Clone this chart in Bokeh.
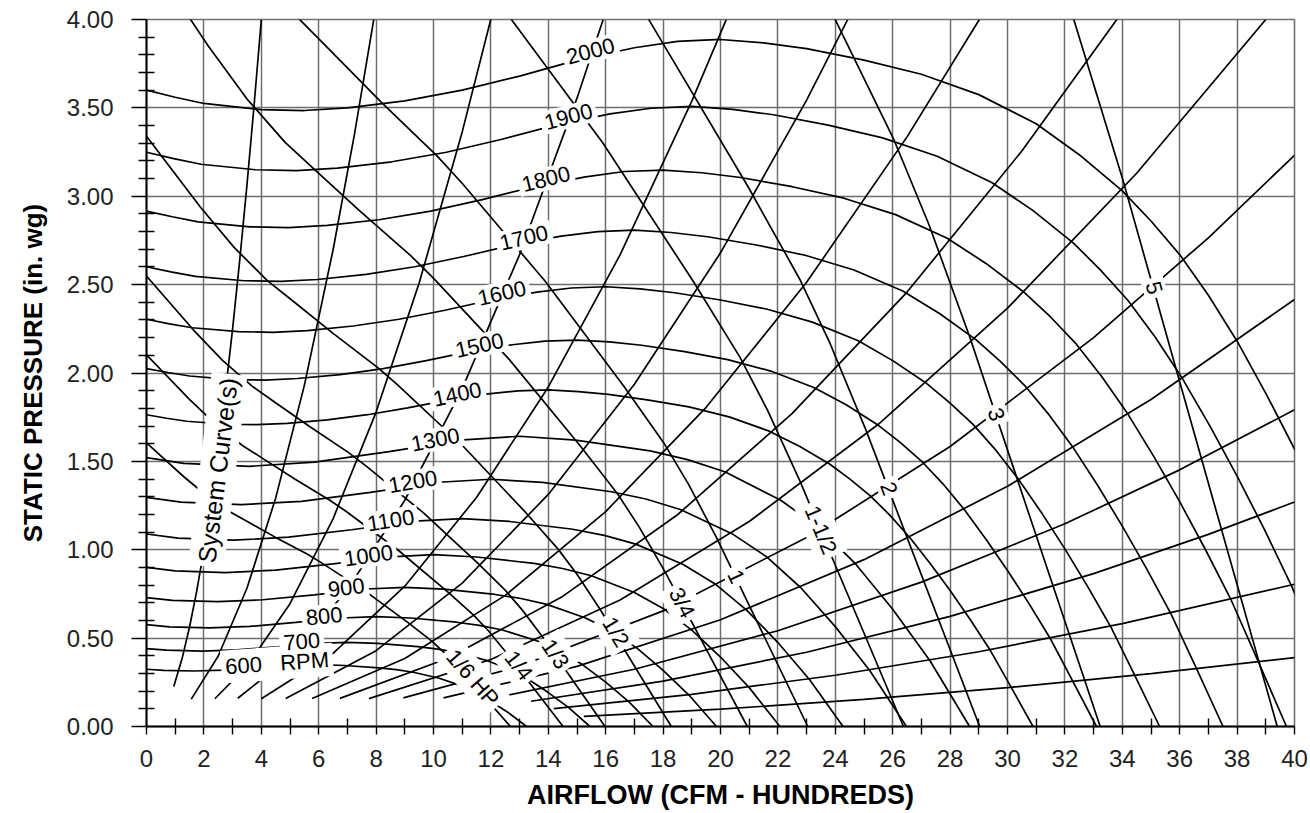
from bokeh.plotting import figure
from bokeh.models import ColumnDataSource, FixedTicker, PrintfTickFormatter, Range1d
from bokeh.core.properties import value
from bokeh.embed import file_html
from bokeh.resources import INLINE

# ---------------- fan curves (RPM): airflow (CFM hundreds) vs static pressure ----------------
fan_600_x = [0, 0.6, 1.65, 2.7, 3.9, 5.1, 6.0, 6.9, 8.1, 8.7, 9.3, 10.2, 10.8, 11.4, 12.0, 12.6, 13.24]
fan_600_y = [0.324, 0.317, 0.314, 0.319, 0.331, 0.346, 0.350, 0.345, 0.332, 0.322, 0.307, 0.273, 0.240, 0.196, 0.141, 0.079, 0]
fan_700_x = [0, 0.7, 1.93, 3.15, 4.55, 5.95, 7.0, 8.05, 9.45, 10.15, 10.85, 11.9, 12.6, 13.3, 14.0, 14.7, 15.45]
fan_700_y = [0.441, 0.432, 0.427, 0.434, 0.451, 0.470, 0.476, 0.470, 0.452, 0.438, 0.418, 0.371, 0.327, 0.267, 0.192, 0.108, 0]
fan_800_x = [0, 0.8, 2.2, 3.6, 5.2, 6.8, 8.0, 9.2, 10.8, 11.6, 12.4, 13.6, 14.4, 15.2, 16.0, 16.8, 17.65]
fan_800_y = [0.576, 0.564, 0.558, 0.566, 0.589, 0.614, 0.622, 0.614, 0.590, 0.572, 0.546, 0.485, 0.427, 0.349, 0.251, 0.141, 0]
fan_900_x = [0, 0.9, 2.48, 4.05, 5.85, 7.65, 9.0, 10.35, 12.15, 13.05, 13.95, 15.3, 16.2, 17.1, 18.0, 18.9, 19.86]
fan_900_y = [0.729, 0.714, 0.706, 0.717, 0.745, 0.778, 0.787, 0.777, 0.747, 0.724, 0.691, 0.614, 0.541, 0.442, 0.318, 0.178, 0]
fan_1000_x = [0, 1.0, 2.75, 4.5, 6.5, 8.5, 10.0, 11.5, 13.5, 14.5, 15.5, 17.0, 18.0, 19.0, 20.0, 21.0, 22.07]
fan_1000_y = [0.900, 0.881, 0.871, 0.885, 0.920, 0.960, 0.972, 0.959, 0.923, 0.894, 0.853, 0.758, 0.668, 0.545, 0.393, 0.220, 0]
fan_1100_x = [0, 1.1, 3.03, 4.95, 7.15, 9.35, 11.0, 12.65, 14.85, 15.95, 17.05, 18.7, 19.8, 20.9, 22.0, 23.1, 24.27]
fan_1100_y = [1.089, 1.066, 1.054, 1.071, 1.113, 1.162, 1.176, 1.160, 1.116, 1.081, 1.032, 0.917, 0.808, 0.660, 0.475, 0.266, 0]
fan_1200_x = [0, 1.2, 3.3, 5.4, 7.8, 10.2, 12.0, 13.8, 16.2, 17.4, 18.6, 20.4, 21.6, 22.8, 24.0, 25.2, 26.48]
fan_1200_y = [1.296, 1.269, 1.255, 1.274, 1.325, 1.382, 1.399, 1.381, 1.328, 1.287, 1.228, 1.091, 0.961, 0.785, 0.565, 0.317, 0]
fan_1300_x = [0, 1.3, 3.58, 5.85, 8.45, 11.05, 13.0, 14.95, 17.55, 18.85, 20.15, 22.1, 23.4, 24.7, 26.0, 27.3, 28.68]
fan_1300_y = [1.521, 1.489, 1.472, 1.496, 1.555, 1.622, 1.642, 1.620, 1.559, 1.510, 1.441, 1.280, 1.128, 0.921, 0.663, 0.372, 0]
fan_1400_x = [0, 0.7, 1.4, 2.8, 3.85, 4.9, 6.3, 7.7, 9.1, 10.5, 11.9, 12.95, 14.0, 15.05, 16.1, 17.5, 18.9, 20.3,
              21.7, 22.75, 23.8, 24.5, 25.2, 25.9, 26.6, 27.3, 28.0, 28.7, 29.4, 30.1, 30.89]
fan_1400_y = [1.764, 1.744, 1.727, 1.710, 1.708, 1.715, 1.735, 1.764, 1.803, 1.847, 1.882, 1.899, 1.905, 1.895,
              1.879, 1.847, 1.808, 1.752, 1.671, 1.585, 1.485, 1.401, 1.308, 1.196, 1.068, 0.924, 0.769, 0.605,
              0.431, 0.230, 0]
fan_1500_x = [0, 0.75, 1.5, 3.0, 4.13, 5.25, 6.75, 8.25, 9.75, 11.25, 12.75, 13.88, 15.0, 16.13, 17.25, 18.75,
              20.25, 21.75, 23.25, 24.38, 25.5, 26.25, 27.0, 27.75, 28.5, 29.25, 30.0, 30.75, 31.5, 32.25, 33.1]
fan_1500_y = [2.025, 2.003, 1.983, 1.963, 1.960, 1.969, 1.991, 2.025, 2.070, 2.121, 2.160, 2.180, 2.186, 2.176,
              2.157, 2.121, 2.076, 2.011, 1.918, 1.820, 1.704, 1.609, 1.502, 1.373, 1.226, 1.060, 0.883, 0.695,
              0.495, 0.264, 0]
fan_1600_x = [0, 0.8, 1.6, 3.2, 4.4, 5.6, 7.2, 8.8, 10.4, 12.0, 13.6, 14.8, 16.0, 17.2, 18.4, 20.0, 21.6, 23.2,
              24.8, 26.0, 27.2, 28.0, 28.8, 29.6, 30.4, 31.2, 32.0, 32.8, 33.6, 34.4, 35.3]
fan_1600_y = [2.304, 2.278, 2.256, 2.234, 2.230, 2.240, 2.266, 2.304, 2.355, 2.413, 2.458, 2.481, 2.488, 2.476,
              2.454, 2.413, 2.362, 2.288, 2.182, 2.070, 1.939, 1.830, 1.709, 1.562, 1.395, 1.206, 1.005, 0.790,
              0.563, 0.301, 0]
fan_1700_x = [0, 0.85, 1.7, 3.4, 4.68, 5.95, 7.65, 9.35, 11.05, 12.75, 14.45, 15.73, 17.0, 18.28, 19.55, 21.25,
              22.95, 24.65, 26.35, 27.63, 28.9, 29.75, 30.6, 31.45, 32.3, 33.15, 34.0, 34.85, 35.7, 36.55, 37.51]
fan_1700_y = [2.601, 2.572, 2.547, 2.522, 2.518, 2.529, 2.558, 2.601, 2.659, 2.724, 2.774, 2.800, 2.808, 2.795,
              2.771, 2.724, 2.666, 2.583, 2.464, 2.337, 2.189, 2.066, 1.929, 1.763, 1.575, 1.362, 1.134, 0.892,
              0.636, 0.340, 0]
fan_1800_x = [0, 0.9, 1.8, 3.6, 4.95, 6.3, 8.1, 9.9, 11.7, 13.5, 15.3, 16.65, 18.0, 19.35, 20.7, 22.5, 24.3, 26.1,
              27.9, 29.25, 30.6, 31.5, 32.4, 33.3, 34.2, 35.1, 36.0, 36.9, 37.8, 38.7, 39.72]
fan_1800_y = [2.916, 2.884, 2.855, 2.827, 2.823, 2.835, 2.867, 2.916, 2.981, 3.054, 3.110, 3.140, 3.148, 3.133,
              3.106, 3.054, 2.989, 2.896, 2.762, 2.620, 2.454, 2.317, 2.163, 1.976, 1.766, 1.527, 1.272, 1.000,
              0.713, 0.381, 0]
fan_1900_x = [0, 0.95, 1.9, 3.8, 5.23, 6.65, 8.55, 10.45, 12.35, 14.25, 16.15, 17.58, 19.0, 20.43, 21.85, 23.75,
              25.65, 27.55, 29.45, 30.88, 32.3, 33.25, 34.2, 35.15, 36.1, 37.05, 38.0, 38.95, 39.9, 40.85, 41.92]
fan_1900_y = [3.249, 3.213, 3.181, 3.150, 3.145, 3.159, 3.195, 3.249, 3.321, 3.402, 3.466, 3.498, 3.508, 3.491,
              3.461, 3.402, 3.330, 3.226, 3.078, 2.920, 2.735, 2.581, 2.410, 2.202, 1.967, 1.701, 1.417, 1.115,
              0.794, 0.424, 0]
fan_2000_x = [0, 1, 2, 4, 5.5, 7, 9, 11, 13, 15, 17, 18.5, 20, 21.5, 23, 25, 27, 29, 31, 32.5, 34, 35, 36, 37,
              38, 39, 40, 41, 42, 43, 44.13]
fan_2000_y = [3.60, 3.56, 3.525, 3.49, 3.485, 3.50, 3.54, 3.60, 3.68, 3.77, 3.84, 3.876, 3.887, 3.868, 3.835,
              3.77, 3.69, 3.575, 3.41, 3.235, 3.03, 2.86, 2.67, 2.44, 2.18, 1.885, 1.57, 1.235, 0.88, 0.47, 0]

# ---------------- brake horsepower lines ----------------
hp_1_6_x = [0, 1.3, 2.11, 2.92, 3.56, 4.5, 5.58, 6.06, 7.645, 9.16, 9.94, 10.4, 10.95, 11.57, 12.68]
hp_1_6_y = [1.605, 1.413, 1.304, 1.213, 1.155, 1.07, 0.977, 0.93, 0.763, 0.582, 0.483, 0.414, 0.32, 0.205, 0]
hp_1_4_x = [0, 1.488, 2.415, 3.343, 4.075, 5.151, 6.387, 6.937, 8.751, 10.485, 11.378, 11.905, 12.534, 13.244, 14.515]
hp_1_4_y = [2.103, 1.852, 1.709, 1.590, 1.514, 1.402, 1.280, 1.219, 1.000, 0.763, 0.633, 0.543, 0.419, 0.269, 0]
hp_1_3_x = [0, 1.638, 2.658, 3.679, 4.485, 5.670, 7.030, 7.635, 9.632, 11.541, 12.523, 13.103, 13.796, 14.577, 15.976]
hp_1_3_y = [2.548, 2.243, 2.070, 1.926, 1.833, 1.699, 1.551, 1.476, 1.211, 0.924, 0.767, 0.657, 0.508, 0.325, 0]
hp_1_2_x = [0, 1.875, 3.043, 4.211, 5.134, 6.490, 8.047, 8.740, 11.026, 13.211, 14.335, 14.999, 15.792, 16.686, 18.287]
hp_1_2_y = [3.339, 2.939, 2.712, 2.523, 2.403, 2.226, 2.032, 1.934, 1.587, 1.211, 1.005, 0.861, 0.666, 0.426, 0]
hp_3_4_x = [0, 2.146, 3.484, 4.821, 5.878, 7.430, 9.213, 10.005, 12.622, 15.123, 16.411, 17.170, 18.078, 19.102, 20.935]
hp_3_4_y = [4.375, 3.851, 3.554, 3.306, 3.148, 2.917, 2.663, 2.535, 2.080, 1.586, 1.317, 1.128, 0.872, 0.559, 0]
hp_1_x = [3.834, 5.306, 6.469, 8.177, 10.139, 11.012, 13.892, 16.645, 18.062, 18.898, 19.897, 21.024, 23.041]
hp_1_y = [4.306, 4.005, 3.814, 3.533, 3.226, 3.071, 2.519, 1.922, 1.595, 1.367, 1.057, 0.677, 0]
hp_1_1_2_x = [11.607, 12.605, 15.902, 19.054, 20.676, 21.633, 22.777, 24.067, 26.376]
hp_1_1_2_y = [4.227, 4.024, 3.301, 2.518, 2.090, 1.791, 1.385, 0.887, 0]
hp_2_x = [13.874, 17.502, 20.971, 22.757, 23.810, 25.069, 26.488, 29.030]
hp_2_y = [4.875, 3.999, 3.051, 2.532, 2.170, 1.677, 1.0745, 0]
hp_3_x = [20.035, 24.006, 26.050, 27.255, 28.697, 30.322, 33.230]
hp_3_y = [5.240, 3.997, 3.317, 2.843, 2.198, 1.408, 0]
hp_5_x = [28.462, 30.886, 32.315, 34.024, 35.950, 39.399]
hp_5_y = [5.619, 4.663, 3.997, 3.090, 1.979, 0]

# ---------------- system curves ----------------
sys_a_x = [0.95, 1.25, 1.5, 1.75, 2.0, 2.25, 2.5, 2.75, 3.0, 3.25, 3.5, 3.75, 4.0]
sys_a_y = [0.226, 0.391, 0.563, 0.766, 1.0, 1.266, 1.563, 1.891, 2.25, 2.641, 3.063, 3.516, 4.0]
sys_b_x = [1.56, 2.5, 3.5, 4.5, 5.5, 6.5, 7.25, 7.92]
sys_b_y = [0.155, 0.399, 0.782, 1.292, 1.930, 2.696, 3.354, 4.002]
sys_c_x = [2.38, 3.5, 5, 6.5, 8, 9.5, 11, 12.0]
sys_c_y = [0.157, 0.341, 0.695, 1.175, 1.779, 2.509, 3.364, 4.003]
sys_d_x = [3.18, 5, 7, 9, 11, 13, 15, 15.91]
sys_d_y = [0.160, 0.395, 0.774, 1.280, 1.912, 2.670, 3.555, 3.999]
sys_e_x = [4.0, 6.5, 9, 11.5, 14, 16.5, 19, 20.2]
sys_e_y = [0.157, 0.414, 0.794, 1.296, 1.921, 2.668, 3.538, 3.999]
sys_f_x = [4.85, 8, 11, 14, 17, 20, 23, 24.43]
sys_f_y = [0.158, 0.429, 0.811, 1.313, 1.936, 2.680, 3.544, 3.999]
sys_g_x = [5.77, 9, 12.5, 16, 19.5, 23, 26.5, 29.02]
sys_g_y = [0.158, 0.385, 0.742, 1.216, 1.806, 2.513, 3.336, 4.0]
sys_h_x = [6.74, 10.5, 14.5, 18.5, 22.5, 26.5, 30.5, 33.81]
sys_h_y = [0.159, 0.386, 0.736, 1.198, 1.772, 2.458, 3.256, 4.0]
sys_i_x = [7.75, 12, 16.5, 21, 25.5, 30, 34.5, 39.0]
sys_i_y = [0.158, 0.379, 0.716, 1.160, 1.710, 2.367, 3.130, 4.0]
sys_j_x = [8.95, 13, 18, 23, 28, 33, 37, 40]
sys_j_y = [0.162, 0.341, 0.654, 1.069, 1.584, 2.200, 2.765, 3.232]
sys_k_x = [10.35, 15, 20, 25, 30, 35, 40]
sys_k_y = [0.162, 0.340, 0.604, 0.944, 1.359, 1.850, 2.416]
sys_l_x = [12.57, 17, 22, 27, 32, 36, 40]
sys_l_y = [0.177, 0.324, 0.542, 0.817, 1.147, 1.452, 1.792]
sys_m_x = [13.4, 18, 23, 28, 33, 37, 40]
sys_m_y = [0.143, 0.257, 0.420, 0.623, 0.865, 1.087, 1.270]
sys_n_x = [14.19, 19, 24, 29, 34, 40]
sys_n_y = [0.101, 0.182, 0.290, 0.423, 0.582, 0.805]
sys_o_x = [15.24, 20, 25, 30, 35, 40]
sys_o_y = [0.057, 0.098, 0.153, 0.220, 0.299, 0.390]

# ---------------- labels ----------------
rpm_labels = ["600\u00a0\u00a0 RPM", "700", "800", "900", "1000", "1100", "1200", "1300", "1400",
              "1500", "1600", "1700", "1800", "1900", "2000"]
rpm_label_x = [4.55, 5.41, 6.19, 6.96, 7.735, 8.51, 9.28, 10.06, 10.83, 11.60, 12.38, 13.15, 13.92, 14.70, 15.47]
rpm_label_y = [0.358, 0.481, 0.624, 0.786, 0.967, 1.166, 1.385, 1.623, 1.880, 2.156, 2.451, 2.765, 3.098, 3.450, 3.821]
rpm_label_angle = [4, 5, 6, 7, 8, 9, 10, 11, 12, 12.5, 13, 13.5, 14, 15, 15]

hp_labels = ["1/6 HP", "1/4", "1/3", "1/2", "3/4", "1", "1-1/2", "2", "3", "5"]
hp_label_x = [11.37, 12.97, 14.25, 16.35, 18.66, 20.55, 23.50, 25.87, 29.61, 35.11]
hp_label_y = [0.275, 0.345, 0.41, 0.535, 0.70, 0.849, 1.112, 1.347, 1.765, 2.481]
hp_label_angle = [-49, -52.6, -55.2, -58.7, -62.1, -64.3, -67.2, -69.1, -71.5, -74.3]

sys_label = ["System Curve(s)"]
sys_label_x = [2.48]
sys_label_y = [1.45]
sys_label_angle = [83]

x_ticks = list(range(0, 41, 2))
x_minor = list(range(1, 40, 2))
y_ticks = [0, 0.5, 1.0, 1.5, 2.0, 2.5, 3.0, 3.5, 4.0]
y_minor = [i / 10 for i in range(41) if i % 5]

FONT = "Liberation Sans"

p = figure(frame_width=1148, frame_height=707,
           min_border_left=146, min_border_right=16, min_border_top=19, min_border_bottom=40,
           x_range=Range1d(0, 40), y_range=Range1d(0, 4),
           output_backend="svg", toolbar_location=None)
p.background_fill_color = "white"
p.border_fill_color = "white"
p.outline_line_color = "#707070"
p.outline_line_width = 1.6

# grid
p.xgrid.grid_line_color = "#6e6e6e"
p.ygrid.grid_line_color = "#6e6e6e"
p.xgrid.grid_line_width = 1.5
p.ygrid.grid_line_width = 1.5

# axes
p.xaxis.ticker = FixedTicker(ticks=x_ticks, minor_ticks=x_minor)
p.yaxis.ticker = FixedTicker(ticks=y_ticks, minor_ticks=y_minor)
p.yaxis.formatter = PrintfTickFormatter(format="%.2f")
for ax in (p.xaxis[0], p.yaxis[0]):
    ax.axis_line_color = "black"
    ax.axis_line_width = 2
    ax.major_tick_line_color = "black"
    ax.minor_tick_line_color = "black"
    ax.major_tick_line_width = 1.4
    ax.minor_tick_line_width = 1.4
    ax.major_tick_in = 0
    ax.minor_tick_in = 8
    ax.minor_tick_out = 8
    ax.major_label_text_font = FONT
    ax.major_label_text_font_size = "24px"
    ax.major_label_text_color = "#222222"
    ax.axis_label_text_font = FONT
    ax.axis_label_text_font_style = "bold"
    ax.axis_label_text_color = "black"
p.xaxis.axis_label_text_font_size = "27px"
p.yaxis.axis_label_text_font_size = "26px"
p.xaxis.major_tick_out = 8
p.yaxis.major_tick_out = 15
p.xaxis.major_label_standoff = 15
p.yaxis.major_label_standoff = 18
p.xaxis.axis_label = "AIRFLOW (CFM - HUNDREDS)"
p.yaxis.axis_label = "STATIC PRESSURE (in. wg)"
p.xaxis.axis_label_standoff = 10
p.yaxis.axis_label_standoff = 16

fan_xs = [fan_600_x, fan_700_x, fan_800_x, fan_900_x, fan_1000_x, fan_1100_x, fan_1200_x, fan_1300_x,
          fan_1400_x, fan_1500_x, fan_1600_x, fan_1700_x, fan_1800_x, fan_1900_x, fan_2000_x]
fan_ys = [fan_600_y, fan_700_y, fan_800_y, fan_900_y, fan_1000_y, fan_1100_y, fan_1200_y, fan_1300_y,
          fan_1400_y, fan_1500_y, fan_1600_y, fan_1700_y, fan_1800_y, fan_1900_y, fan_2000_y]
hp_xs = [hp_1_6_x, hp_1_4_x, hp_1_3_x, hp_1_2_x, hp_3_4_x, hp_1_x, hp_1_1_2_x, hp_2_x, hp_3_x, hp_5_x]
hp_ys = [hp_1_6_y, hp_1_4_y, hp_1_3_y, hp_1_2_y, hp_3_4_y, hp_1_y, hp_1_1_2_y, hp_2_y, hp_3_y, hp_5_y]
sys_xs = [sys_a_x, sys_b_x, sys_c_x, sys_d_x, sys_e_x, sys_f_x, sys_g_x, sys_h_x,
          sys_i_x, sys_j_x, sys_k_x, sys_l_x, sys_m_x, sys_n_x, sys_o_x]
sys_ys = [sys_a_y, sys_b_y, sys_c_y, sys_d_y, sys_e_y, sys_f_y, sys_g_y, sys_h_y,
          sys_i_y, sys_j_y, sys_k_y, sys_l_y, sys_m_y, sys_n_y, sys_o_y]

p.multi_line(xs=sys_xs, ys=sys_ys, line_color="black", line_width=1.7)
p.multi_line(xs=hp_xs, ys=hp_ys, line_color="black", line_width=1.7)
p.multi_line(xs=fan_xs, ys=fan_ys, line_color="black", line_width=1.7)

def add_labels(xs, ys, texts, angles, size):
    src = ColumnDataSource(dict(x=xs, y=ys, text=texts, angle=angles))
    p.text(x="x", y="y", text="text", angle="angle", angle_units="deg", source=src,
           text_align="center", text_baseline="middle",
           text_font=value(FONT), text_font_size=size, text_color="black",
           background_fill_color="white", padding=4)

add_labels(rpm_label_x, rpm_label_y, rpm_labels, rpm_label_angle, "22px")
add_labels(hp_label_x, hp_label_y, hp_labels, hp_label_angle, "22px")
add_labels(sys_label_x, sys_label_y, sys_label, sys_label_angle, "25px")

open("out.html", "w").write(file_html(p, INLINE))
